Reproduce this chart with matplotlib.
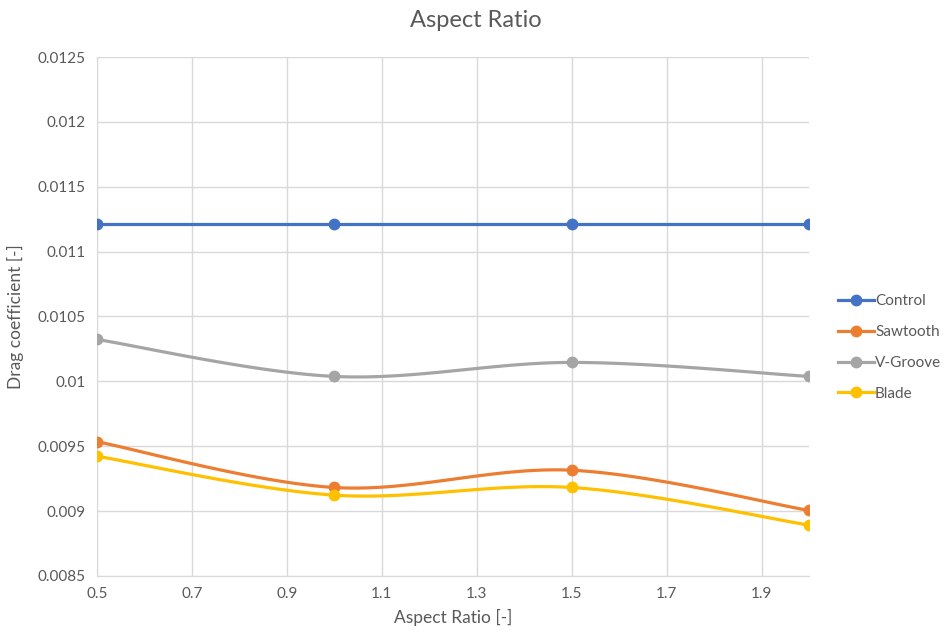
import numpy as np
import matplotlib.pyplot as plt

aspect_ratio = [0.5, 1.0, 1.5, 2.0]
control = [0.011215, 0.011215, 0.011215, 0.011215]
sawtooth = [0.009535, 0.009182, 0.009315, 0.009005]
v_groove = [0.010323, 0.010038, 0.010146, 0.010038]
blade = [0.009423, 0.009123, 0.009182, 0.008892]

series = [
    ("Control", control, "#4472C4"),
    ("Sawtooth", sawtooth, "#ED7D31"),
    ("V-Groove", v_groove, "#A5A5A5"),
    ("Blade", blade, "#FFC000"),
]


def smooth(x, y, n=40):
    # cubic bezier through the points, spreadsheet-style smoothed line
    x = np.asarray(x, float)
    y = np.asarray(y, float)
    px = np.concatenate([[x[0]], x, [x[-1]]])
    py = np.concatenate([[y[0]], y, [y[-1]]])
    xs, ys = [], []
    t = np.linspace(0, 1, n)
    for i in range(len(x) - 1):
        p0 = np.array([x[i], y[i]])
        p3 = np.array([x[i + 1], y[i + 1]])
        p1 = p0 + (np.array([px[i + 2], py[i + 2]]) - np.array([px[i], py[i]])) / 6
        p2 = p3 - (np.array([px[i + 3], py[i + 3]]) - np.array([px[i + 1], py[i + 1]])) / 6
        b = ((1 - t) ** 3)[:, None] * p0 + (3 * (1 - t) ** 2 * t)[:, None] * p1 \
            + (3 * (1 - t) * t ** 2)[:, None] * p2 + (t ** 3)[:, None] * p3
        xs.extend(b[:, 0])
        ys.extend(b[:, 1])
    return np.array(xs), np.array(ys)


plt.rcParams['font.family'] = ['Lato', 'DejaVu Sans']

fig = plt.figure(figsize=(9.51, 6.37), dpi=100)
ax = fig.add_axes([0.102, 0.0958, 0.7487, 0.8147])

for name, vals, col in series:
    sx, sy = smooth(aspect_ratio, vals)
    ax.plot(sx, sy, color=col, lw=2.3, solid_capstyle='round', zorder=3)
    ax.plot(aspect_ratio, vals, 'o', color=col, ms=7.5, zorder=4)
    ax.plot([], [], '-o', color=col, lw=2.3, ms=7.5, label=name)

ax.set_xlim(0.5, 2.0)
ax.set_ylim(0.0085, 0.0125)
ax.set_xticks(np.arange(0.5, 2.0, 0.2))
ax.set_xticklabels(['0.5', '0.7', '0.9', '1.1', '1.3', '1.5', '1.7', '1.9'])
yt = np.arange(0.0085, 0.01251, 0.0005)
ax.set_yticks(yt)
ax.set_yticklabels(['0.0085', '0.009', '0.0095', '0.01', '0.0105', '0.011',
                    '0.0115', '0.012', '0.0125'])
ax.grid(True, color='#D9D9D9', lw=1.0)
ax.set_axisbelow(True)
for s in ['top', 'right']:
    ax.spines[s].set_visible(False)
for s in ['left', 'bottom']:
    ax.spines[s].set_color('#D9D9D9')
ax.tick_params(length=0, labelsize=11, colors='#595959', pad=8)

fig.suptitle('Aspect Ratio', fontsize=17, color='#595959', x=0.5, y=0.985)
ax.set_xlabel('Aspect Ratio [-]', fontsize=12.5, color='#595959', labelpad=6)
ax.set_ylabel('Drag coefficient [-]', fontsize=12.5, color='#595959', labelpad=10)

ax.legend(loc='center left', bbox_to_anchor=(1.022, 0.44), frameon=False,
          fontsize=11, labelcolor='#595959', handlelength=2.3,
          handletextpad=0.1, labelspacing=1.1)

fig.savefig('out.png', dpi=100)
